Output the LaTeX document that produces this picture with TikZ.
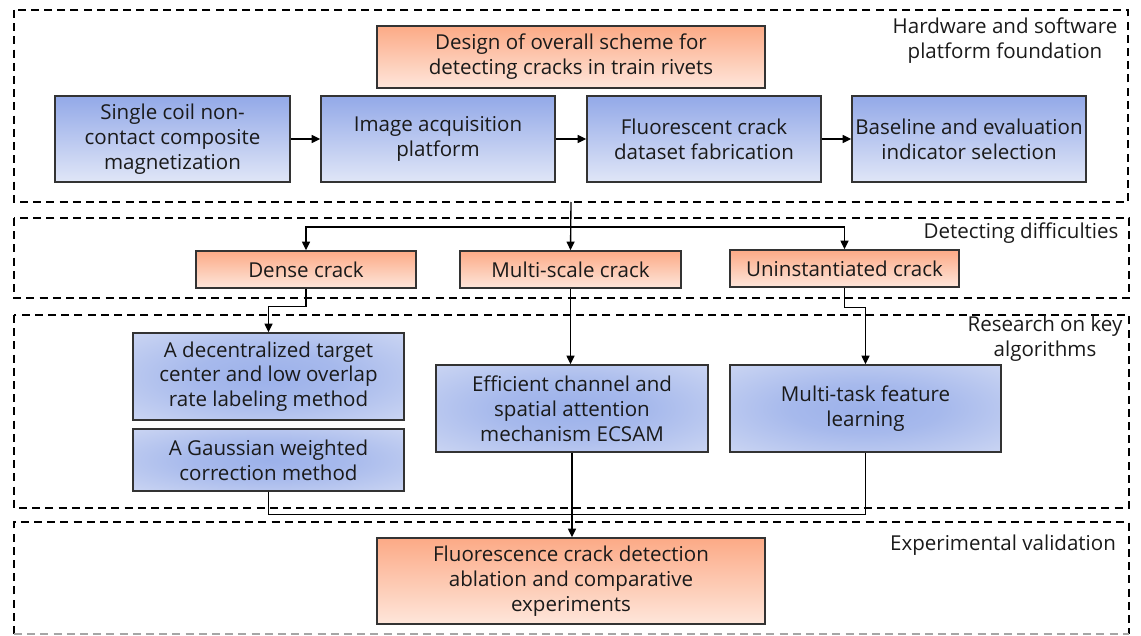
\documentclass[tikz,border=0pt]{standalone}
\usepackage{fontspec}
\setmainfont{Open Sans}
\usetikzlibrary{arrows.meta}

\definecolor{boxline}{HTML}{333333}
\definecolor{textc}{HTML}{1A1A1A}
\definecolor{blueT}{HTML}{93A9E8}
\definecolor{blueB}{HTML}{E0E6F7}
\definecolor{blueC}{HTML}{9CB1EA}
\definecolor{blueE}{HTML}{E2E7F7}
\definecolor{orT}{HTML}{FCAA86}
\definecolor{orB}{HTML}{FEE6DB}

% elliptical glow used by the algorithm boxes
\pgfdeclareradialshading{ellblue}{\pgfpoint{0bp}{0bp}}{%
  color(0bp)=(blueC); color(14bp)=(blueC!85!blueE); color(50bp)=(blueE)}

\begin{document}
\begin{tikzpicture}[x=0.75pt,y=-0.75pt,
  font=\fontsize{15.4pt}{18.6pt}\selectfont,
  box/.style={draw=boxline, line width=1.1pt, inner sep=0pt, align=center, text=textc},
  hwbox/.style={box, top color=blueT, bottom color=blueB,
    minimum width=175.5pt, minimum height=64.5pt},
  orbox/.style={box, top color=orT, bottom color=orB},
  algbox/.style={box, shade, shading=ellblue, minimum width=203.25pt},
  group/.style={dash pattern=on 6pt off 3.9pt, line width=1.6pt},
  conn/.style={line width=1pt, draw=black},
  arr/.style={conn, -{Triangle[length=6.5pt,width=6pt]}},
  tag/.style={align=center, text=textc}]

\useasboundingbox (0,0) rectangle (1141,635);

% stage frames
\draw[group] (14,10) rectangle (1128,202);
\draw[group] (14,218) rectangle (1129,298);
\draw[group] (14,315) rectangle (1129,508);
\draw[group] (14,634) -- (14,522) -- (1129,522) -- (1129,634);
\draw[group, black!35] (14,634) -- (1129,634);

% stage titles
\node[tag] (t1) at (1005,41) {Hardware and software\\platform foundation};
\node[tag] (t2) at (1021,233) {Detecting difficulties};
\node[tag] (t3) at (1045,339) {Research on key\\algorithms};
\node[tag] (t4) at (1003,545) {Experimental validation};

% hardware and software platform
\node[orbox, minimum width=291pt, minimum height=46.5pt] (design) at (571,57)
  {Design of overall scheme for\\detecting cracks in train rivets};
\node[hwbox, minimum width=176.25pt] (coil) at (172.5,139)
  {Single coil non-\\contact composite\\magnetization};
\node[hwbox] (acq) at (438,139) {Image acquisition\\platform};
\node[hwbox] (data) at (704,139) {Fluorescent crack\\dataset fabrication};
\node[hwbox] (base) at (969,139) {Baseline and evaluation\\indicator selection};

% detecting difficulties
\node[orbox, minimum width=165pt, minimum height=27.75pt] (dense) at (306,269.5) {Dense crack};
\node[orbox, minimum width=165.75pt, minimum height=27.75pt] (multi) at (570.5,269.5) {Multi-scale crack};
\node[orbox, minimum width=171.75pt, minimum height=27.75pt] (uninst) at (844.5,268.5) {Uninstantiated crack};

% key algorithms
\node[algbox, minimum height=65.25pt] (decen) at (268.5,376.5)
  {A decentralized target\\center and low overlap\\rate labeling method};
\node[algbox, minimum height=46.5pt] (gauss) at (268.5,460)
  {A Gaussian weighted\\correction method};
\node[algbox, minimum width=204pt, minimum height=65.25pt] (ecsam) at (572,408.5)
  {Efficient channel and\\spatial attention\\mechanism ECSAM};
\node[algbox, minimum height=65.25pt] (mtl) at (865.5,408.5)
  {Multi-task feature\\learning};

% experimental validation
\node[orbox, minimum width=291pt, minimum height=64.5pt] (exp) at (571,581)
  {Fluorescence crack detection\\ablation and comparative\\experiments};

% connectors
\draw[arr] (coil) -- (acq);
\draw[arr] (acq) -- (data);
\draw[arr] (data) -- (base);

\coordinate (split) at (571,202);
\coordinate (hbar) at (571,227);
\draw[arr] (split) -- (multi.north);
\draw[arr] (hbar) -| (dense.north);
\draw[arr] (hbar) -| (uninst.north);

\draw[arr] (dense.south) -- ++(0,18) -| (decen.north);
\draw[arr] (multi.south) -- (multi.south |- ecsam.north);
\draw[arr] (uninst.south) -- ++(0,19.5) -| (mtl.north);

\draw[conn] (gauss.south) -- ++(0,23) -| (mtl.south);
\draw[arr] (ecsam.south) -- (ecsam.south |- exp.north);
\end{tikzpicture}
\end{document}
